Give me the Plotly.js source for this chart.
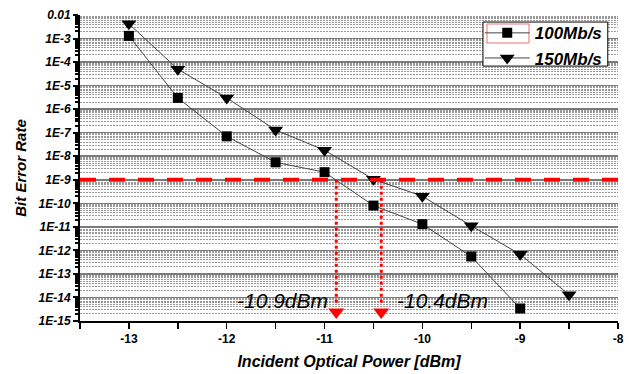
<!DOCTYPE html>
<html>
<head>
<meta charset="utf-8">
<script src="https://cdn.plot.ly/plotly-3.0.1.min.js"></script>
<style>html,body{margin:0;padding:0;background:#fff;}#chart{width:629px;height:374px;}</style>
</head>
<body>
<div id="chart"></div>
<script>
// Data
var power100 = [-13, -12.5, -12, -11.5, -11, -10.5, -10, -9.5, -9];
var ber100 = [1.3e-3, 3e-6, 7e-8, 5.5e-9, 2.1e-9, 8e-11, 1.3e-11, 5.5e-13, 3.4e-15];
var power150 = [-13, -12.5, -12, -11.5, -11, -10.5, -10, -9.5, -9, -8.5];
var ber150 = [4.2e-3, 5e-5, 3e-6, 1.3e-7, 1.8e-8, 1.05e-9, 2e-10, 1.1e-11, 6.8e-13, 1.3e-14];
var thresholdBER = 1e-9;
var sensitivityX = [-10.88, -10.42];
var sensitivityLabels = ['-10.9dBm', '-10.4dBm'];
var labelX = [-11.43, -9.79];
var arrowTipBER = 2.4e-15;
var yTickVals = [1e-2,1e-3,1e-4,1e-5,1e-6,1e-7,1e-8,1e-9,1e-10,1e-11,1e-12,1e-13,1e-14,1e-15];
var yTickText = ['0.01','1E-3','1E-4','1E-5','1E-6','1E-7','1E-8','1E-9','1E-10','1E-11','1E-12','1E-13','1E-14','1E-15'];
var xTickVals = [-13.5,-13,-12.5,-12,-11.5,-11,-10.5,-10,-9.5,-9,-8.5,-8];
var xTickText = ['','-13','','-12','','-11','','-10','','-9','','-8'];

var traces = [
  {x: power100, y: ber100, name: '100Mb/s', mode: 'lines+markers', type: 'scatter',
   line: {color: '#444', width: 1}, marker: {symbol: 'square', size: 10, color: '#000'}},
  {x: power150, y: ber150, name: '150Mb/s', mode: 'lines+markers', type: 'scatter',
   line: {color: '#444', width: 1}, marker: {symbol: 'triangle-down', size: 13, color: '#000'}},
  {x: sensitivityX, y: sensitivityX.map(function(){return arrowTipBER;}), mode: 'markers', type: 'scatter',
   showlegend: false, hoverinfo: 'skip', marker: {symbol: 'triangle-down', size: 14, color: '#ff0000'}}
];

var shapes = [
  {type: 'line', xref: 'x', yref: 'y', x0: -13.5, x1: -8, y0: thresholdBER, y1: thresholdBER,
   line: {color: '#ff0000', width: 4, dash: '16px,13px'}, layer: 'above'}
];
sensitivityX.forEach(function(v){
  shapes.push({type: 'line', xref: 'x', yref: 'y', x0: v, x1: v, y0: thresholdBER, y1: 5e-15,
    line: {color: '#ff0000', width: 3, dash: '3px,3px'}, layer: 'above'});
});
// legend box
shapes.push({type: 'rect', xref: 'paper', yref: 'paper', x0: 0.749, x1: 0.981, y0: 0.833, y1: 0.977,
  fillcolor: '#fff', line: {color: '#000', width: 1}, layer: 'above'});
shapes.push({type: 'rect', xref: 'paper', yref: 'paper', x0: 0.7565, x1: 0.8346, y0: 0.9085, y1: 0.9706,
  fillcolor: 'rgba(0,0,0,0)', line: {color: '#f07070', width: 1}, layer: 'above'});

var annotations = sensitivityLabels.map(function(t, i){
  return {x: labelX[i], y: -14.15, xref: 'x', yref: 'y', text: t, showarrow: false,
    font: {family: 'Liberation Sans, Arial', size: 21, style: 'italic', color: '#000'}};
});

var layout = {
  width: 629, height: 374,
  margin: {l: 80, r: 11, t: 15, b: 53},
  paper_bgcolor: '#fff', plot_bgcolor: '#fff',
  showlegend: true,
  legend: {x: 0.743, y: 0.999, xanchor: 'left', yanchor: 'top', bgcolor: 'rgba(0,0,0,0)', borderwidth: 0,
    itemwidth: 45,
    font: {family: 'Liberation Sans, Arial', size: 17, style: 'italic', weight: 'bold', color: '#000'}, tracegroupgap: 0},
  xaxis: {range: [-13.5, -8], tickmode: 'array', tickvals: xTickVals, ticktext: xTickText,
    ticks: 'outside', ticklen: 6, tickwidth: 1.5, tickcolor: '#000',
    showline: true, linecolor: '#000', linewidth: 2, showgrid: false, zeroline: false,
    tickfont: {family: 'Liberation Sans, Arial', size: 12, weight: 'bold', color: '#000'},
    title: {text: 'Incident Optical Power [dBm]', standoff: 10,
      font: {family: 'Liberation Sans, Arial', size: 16, weight: 'bold', style: 'italic', color: '#000'}}},
  yaxis: {type: 'log', range: [-15, -2], tickmode: 'array', tickvals: yTickVals, ticktext: yTickText,
    ticks: 'outside', ticklen: 5, tickwidth: 2, tickcolor: '#000',
    showline: true, linecolor: '#000', linewidth: 2, showgrid: true, gridcolor: '#7a7a7a', gridwidth: 1.5,
    zeroline: false,
    minor: {dtick: 'D1', showgrid: true, gridcolor: '#9a9a9a', griddash: '2px,1px', gridwidth: 1,
      ticks: 'outside', ticklen: 3, tickcolor: '#000'},
    tickfont: {family: 'Liberation Sans, Arial', size: 12, weight: 'bold', style: 'italic', color: '#000'},
    title: {text: 'Bit Error Rate', standoff: 8,
      font: {family: 'Liberation Sans, Arial', size: 15, weight: 'bold', style: 'italic', color: '#000'}}},
  shapes: shapes,
  annotations: annotations
};

Plotly.newPlot('chart', traces, layout, {displayModeBar: false, staticPlot: true});
</script>
</body>
</html>
